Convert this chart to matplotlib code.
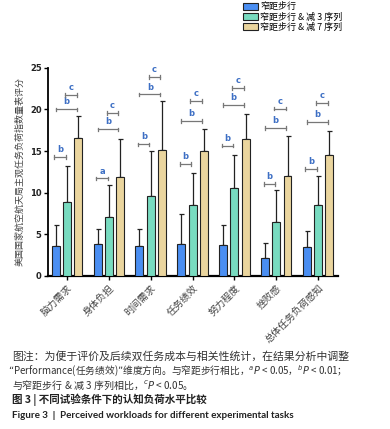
import matplotlib
matplotlib.use("Agg")
import matplotlib.pyplot as plt
import numpy as np
from matplotlib.patches import Patch

plt.rcParams['font.family'] = ['Noto Sans CJK SC', 'DejaVu Sans']
plt.rcParams['mathtext.fontset'] = 'dejavusans'

categories = ['脑力需求', '身体负担', '时间需求', '任务绩效', '努力程度', '挫败感', '总体任务负荷感知']
series_names = ['窄距步行', '窄距步行 & 减 3 序列', '窄距步行 & 减 7 序列']
mean_walk = [3.61, 3.85, 3.61, 3.85, 3.73, 2.17, 3.45]
sd_walk = [2.49, 1.81, 2.05, 3.55, 2.33, 1.76, 1.89]
mean_s3 = [8.90, 7.10, 9.63, 8.50, 10.60, 6.42, 8.55]
sd_s3 = [4.34, 3.80, 5.37, 3.86, 3.97, 3.85, 3.41]
mean_s7 = [16.60, 11.88, 15.10, 15.00, 16.50, 12.04, 14.49]
sd_s7 = [2.60, 4.62, 5.90, 2.70, 3.00, 4.73, 2.88]
# significance brackets (height, label)
sig_12_h = [14.25, 11.7, 15.8, 13.4, 15.65, 11.0, 12.8]
sig_12_l = ['b', 'a', 'b', 'b', 'b', 'b', 'b']
sig_13_h = [20.0, 17.6, 21.8, 18.6, 20.5, 17.8, 18.5]
sig_13_l = ['b'] * 7
sig_23_h = [21.7, 19.6, 23.9, 21.0, 22.6, 20.1, 20.8]
sig_23_l = ['c'] * 7
yticks = [0, 5, 10, 15, 20, 25]

colors = ['#4a8ef2', '#78dbc0', '#ead59e']

fig = plt.figure(figsize=(3.9, 4.29), dpi=100)
ax = fig.add_axes([0.123, 0.357, 0.744, 0.485])

x = np.arange(len(categories))
offsets = [-0.27, 0.0, 0.27]
w = 0.19
means = [mean_walk, mean_s3, mean_s7]
sds = [sd_walk, sd_s3, sd_s7]
for i in range(3):
    ax.bar(x + offsets[i], means[i], width=w, color=colors[i], edgecolor='#222222',
           linewidth=0.8, zorder=3)
    ax.errorbar(x + offsets[i], means[i], yerr=[np.zeros(len(x)), sds[i]], fmt='none',
                ecolor='#222222', elinewidth=0.9, capsize=1.8, capthick=0.9, zorder=2)

lab_col = '#3d6fc4'
def bracket(x1, x2, h, lab):
    ax.plot([x1, x2], [h, h], color='#777777', lw=0.9, zorder=4, clip_on=False)
    for xx in (x1, x2):
        ax.plot([xx, xx], [h - 0.22, h + 0.22], color='#777777', lw=0.9, zorder=4, clip_on=False)
    ax.text((x1 + x2) / 2, h + 0.35, lab, ha='center', va='bottom', fontsize=6,
            color=lab_col, fontweight='bold', family='DejaVu Sans')

for k in range(len(x)):
    c0, c1, c2 = x[k] + offsets[0], x[k] + offsets[1], x[k] + offsets[2]
    bracket(c0 - 0.03, c1 - 0.03, sig_12_h[k], sig_12_l[k])
    bracket(c0, c2 - 0.04, sig_13_h[k], sig_13_l[k])
    bracket(c1 - 0.05, c2 - 0.04, sig_23_h[k], sig_23_l[k])

ax.set_xlim(-0.455, 6.48)
ax.set_ylim(0, 25)
ax.set_yticks(yticks)
ax.set_yticklabels([str(t) for t in yticks], fontsize=6, fontweight='bold', color='#222222',
                   family='DejaVu Sans')
ax.set_xticks(x)
ax.set_xticklabels(categories, rotation=45, ha='right', rotation_mode='anchor',
                   fontsize=7, color='#444444')
ax.tick_params(axis='x', length=3, width=1, pad=2)
ax.tick_params(axis='y', length=3, width=1, pad=1.5)
for s in ['top', 'right']:
    ax.spines[s].set_visible(False)
ax.spines['left'].set_linewidth(1.3)
ax.spines['bottom'].set_linewidth(1.6)
ax.set_ylabel('美国国家航空航天局主观任务负荷指数量表评分', fontsize=6.5, color='#444444',
              labelpad=4)

handles = [Patch(facecolor=colors[i], edgecolor='#222222', linewidth=0.8, label=series_names[i])
           for i in range(3)]
fig.legend(handles=handles, loc='upper left', bbox_to_anchor=(237 / 390, 1 + 4 / 429),
           frameon=False, fontsize=6.5, handlelength=1.6, handleheight=0.8,
           handletextpad=0.3, labelspacing=0.1, borderpad=0.2)

tc = '#333333'
fig.text(12 / 390, 1 - 356 / 429, '图注：为便于评价及后续双任务成本与相关性统计，在结果分析中调整',
         fontsize=7.8, color=tc, va='center')
fig.text(8 / 390, 1 - 371 / 429,
         '“Performance(任务绩效)”维度方向。与窄距步行相比，$^{a}$$\\it{P}$ < 0.05，$^{b}$$\\it{P}$ < 0.01；',
         fontsize=7.0, color=tc, va='center')
fig.text(12 / 390, 1 - 385 / 429, '与窄距步行 & 减 3 序列相比，$^{c}$$\\it{P}$ < 0.05。',
         fontsize=7.2, color=tc, va='center')
fig.text(12 / 390, 1 - 400 / 429, '图 3 | 不同试验条件下的认知负荷水平比较',
         fontsize=7.6, color='#222222', va='center', fontweight='bold')
fig.text(12 / 390, 1 - 415 / 429, 'Figure 3  |  Perceived workloads for different experimental tasks',
         fontsize=7.1, color='#222222', va='center', fontweight='bold', family='Lato')

fig.savefig('out.png', dpi=100)
